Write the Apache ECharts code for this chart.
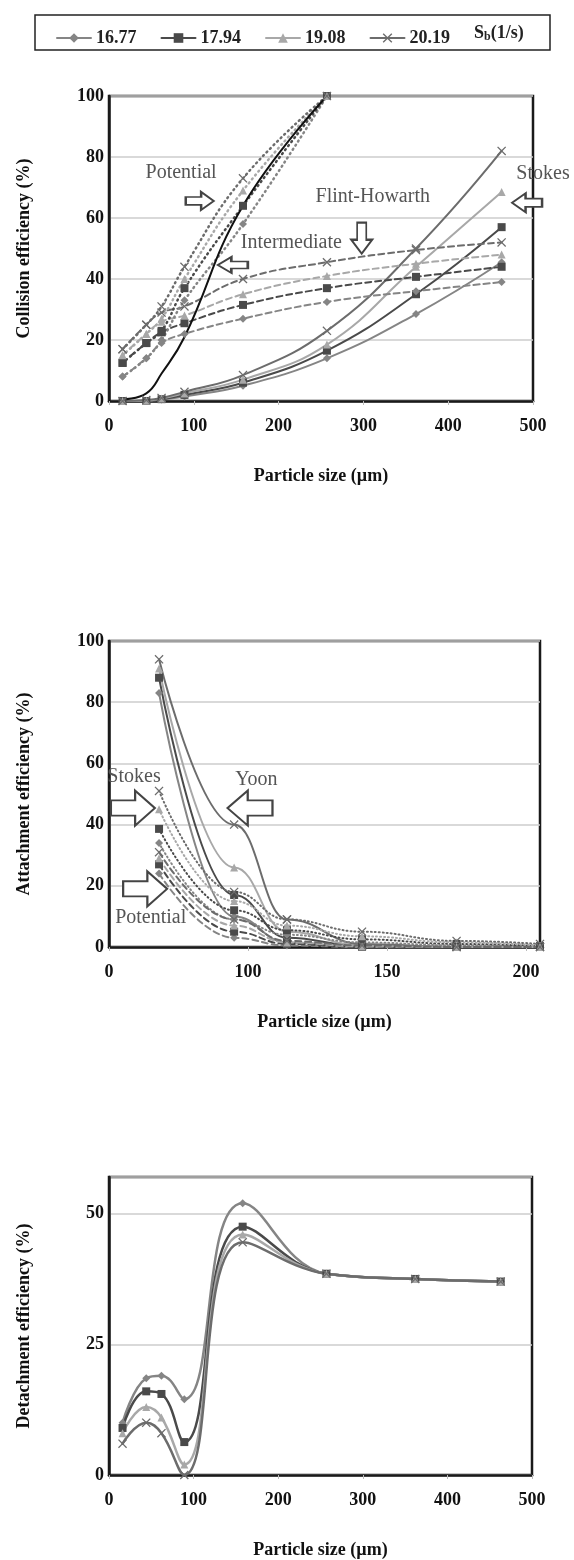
<!DOCTYPE html>
<html>
<head>
<meta charset="utf-8">
<script src="https://cdn.jsdelivr.net/npm/echarts@6/dist/echarts.min.js"></script>
<style>
html, body { margin: 0; padding: 0; background: #fff; }
#chart { width: 574px; height: 1560px; }
</style>
</head>
<body>
<div id="chart"></div>
<script>
// particle sizes (µm)
const sizes = [16, 44, 62, 89, 158, 257, 362, 463];
const sizesPotential = [16, 44, 62, 89, 158, 257];
const sizesAttach = [68, 95, 114, 141, 175, 205];

// Sb (1/s) series names
const sbNames = ['16.77', '17.94', '19.08', '20.19'];

// collision efficiency (%), one row per Sb
const colStokes = [
  [0, 0, 0.5, 1.5, 5, 14, 28.5, 45.5],
  [0, 0, 0.6, 2, 6, 16.5, 35, 57],
  [0, 0.1, 0.8, 2.5, 7, 18.5, 44, 68.5],
  [0, 0.3, 1, 3, 8.5, 23, 50, 82]
];
const colIntermediate = [
  [8, 14, 19, 22, 27, 32.5, 36, 39],
  [12.5, 19, 22.5, 25.5, 31.5, 37, 40.7, 44],
  [15, 22, 26, 28, 35, 41, 45, 48],
  [17, 25, 29, 31, 40, 45.5, 49.5, 52]
];
const colPotential = [
  [8, 14, 20, 33, 58, 100],
  [12.5, 19, 23, 37, 64, 100],
  [15, 22, 27, 40, 69, 100],
  [17, 25, 31, 44, 73, 100]
];
const colBlack = [0.5, 2.5, 9, 21, 64, 100];

// attachment efficiency (%)
const attYoon = [
  [83, 10, 1.5, 0, 0, 0],
  [88, 17, 3, 0.2, 0, 0],
  [91, 26, 5, 0.5, 0, 0],
  [94, 40, 9, 1, 0, 0]
];
const attStokes = [
  [34, 9, 4, 1.5, 0.5, 0],
  [38.6, 12, 5.5, 2.5, 1, 0.3],
  [45, 15, 7, 3.5, 1.5, 0.5],
  [51, 18, 9, 5, 2, 1]
];
const attPotential = [
  [24, 3, 0.5, 0, 0, 0],
  [27, 5, 1, 0, 0, 0],
  [29, 7, 1.5, 0.2, 0, 0],
  [31, 9, 2, 0.5, 0, 0]
];

// detachment efficiency (%)
const detach = [
  [10, 18.5, 19, 14.5, 52, 38.5, 37.5, 37],
  [9, 16, 15.5, 6.3, 47.5, 38.5, 37.5, 37],
  [8, 13, 11, 2, 46, 38.5, 37.5, 37],
  [6, 10, 8, 0, 44.5, 38.5, 37.5, 37]
];

// tick labels
const attachTickValues = [50, 100, 150, 200];
const attachTickLabels = ['0', '100', '150', '200'];
const detachTickValues = [0, 25, 50];

// annotations: [text, x, y]
const colNotes = [['Potential', 85, 75], ['Intermediate', 215, 51.8], ['Flint-Howarth', 311, 67]];
const colArrows = [[107, 65.6, 28, 18, 0], [146, 44.6, 30, 16, 180], [298, 53.4, 31, 21, -90], [493, 65, 30, 19, 180]];
const attNotes = [['Stokes', 59, 55.5], ['Yoon', 103, 54.6], ['Potential', 65, 9.5]];
const attArrows = [[58.6, 45.4, 44, 35, 0], [100.7, 45.4, 45, 35, 180], [63, 19, 44, 35, 0]];

const serif = 'Liberation Serif';
const sbColors = ['#858585', '#4a4a4a', '#a8a8a8', '#6c6c6c'];
const xPath = 'path://M1,0 L5,4 L9,0 L10,1 L6,5 L10,9 L9,10 L5,6 L1,10 L0,9 L4,5 L0,1 Z';
const sbSymbols = ['diamond', 'rect', 'triangle', xPath];
const arrowPath = 'path://M0,30 L55,30 L55,4 L100,50 L55,96 L55,70 L0,70 Z';

function pairs(xs, ys) {
  return ys.map((v, i) => [xs[i], v]);
}

function sbSeries(k, xs, ys, axis, dash, width) {
  return {
    name: sbNames[k],
    type: 'line',
    xAxisIndex: axis,
    yAxisIndex: axis,
    data: pairs(xs, ys),
    smooth: 0.45,
    symbol: sbSymbols[k],
    symbolSize: k === 3 ? 9 : 8,
    lineStyle: { color: sbColors[k], width: width, type: dash, cap: 'round' },
    itemStyle: { color: sbColors[k] }
  };
}

function textMark(n, offset) {
  return {
    coord: [n[1], n[2]], symbol: 'rect', symbolSize: 1,
    itemStyle: { color: 'rgba(0,0,0,0)' },
    label: {
      show: true, position: 'inside', formatter: n[0], offset: offset || [0, 0],
      fontFamily: serif, fontSize: 20, color: '#555'
    }
  };
}

function arrowMark(a) {
  return {
    coord: [a[0], a[1]], symbol: arrowPath, symbolSize: [a[2], a[3]], symbolRotate: a[4],
    itemStyle: { color: '#fff', borderColor: '#444', borderWidth: 2 },
    label: { show: false }
  };
}

const series = [];
for (let k = 0; k < 4; k++) series.push(sbSeries(k, sizes, colStokes[k], 0, 'solid', 2));
for (let k = 0; k < 4; k++) series.push(sbSeries(k, sizes, colIntermediate[k], 0, [6, 4], 2));
for (let k = 0; k < 4; k++) series.push(sbSeries(k, sizesPotential, colPotential[k], 0, [1, 4], 2.5));
series.push({
  type: 'line', xAxisIndex: 0, yAxisIndex: 0, data: pairs(sizesPotential, colBlack),
  smooth: 0.45, symbol: 'none', lineStyle: { color: '#111', width: 2 }, z: 3
});
for (let k = 0; k < 4; k++) series.push(sbSeries(k, sizesAttach, attYoon[k], 1, 'solid', 2));
for (let k = 0; k < 4; k++) series.push(sbSeries(k, sizesAttach, attStokes[k], 1, [1, 3], 2));
for (let k = 0; k < 4; k++) series.push(sbSeries(k, sizesAttach, attPotential[k], 1, [6, 4], 2));
for (let k = 0; k < 4; k++) series.push(sbSeries(k, sizes, detach[k], 2, 'solid', 2.5));
for (const s of series) if (s.xAxisIndex === 1) s.smoothMonotone = 'x';

// annotation holders (Stokes label sits just outside the plot, so it is offset from the x max)
series.push({
  type: 'line', xAxisIndex: 0, yAxisIndex: 0, data: [], z: 10,
  markPoint: {
    data: colNotes.map(n => textMark(n))
      .concat(colArrows.map(arrowMark))
      .concat([textMark(['Stokes', 500, 74.4], [10, 0])])
  }
});
series.push({
  type: 'line', xAxisIndex: 1, yAxisIndex: 1, data: [], z: 10,
  markPoint: { data: attNotes.map(n => textMark(n)).concat(attArrows.map(arrowMark)) }
});

const tickFont = { fontFamily: serif, fontWeight: 'bold', fontSize: 18, color: '#111' };
const nameFont = { fontFamily: serif, fontWeight: 'bold', fontSize: 18, color: '#111' };
const axisLine = { show: true, onZero: false, lineStyle: { color: '#1a1a1a', width: 2.5 } };
const splitLine = { show: true, lineStyle: { color: '#cdcdcd', width: 1.5 } };

function xAxis(idx, min, max, interval, fmt) {
  return {
    gridIndex: idx, type: 'value', min: min, max: max, interval: interval,
    name: 'Particle size (\u00b5m)', nameLocation: 'middle', nameGap: 66, nameTextStyle: nameFont,
    axisLine: axisLine, axisTick: { show: true, length: 4, lineStyle: { color: '#bbb' } },
    axisLabel: Object.assign({ margin: 16, formatter: fmt }, tickFont),
    splitLine: { show: false }
  };
}

function yAxis(idx, max, interval, title, fmt) {
  return {
    gridIndex: idx, type: 'value', min: 0, max: max, interval: interval,
    name: title, nameLocation: 'middle', nameGap: 76, nameTextStyle: nameFont,
    axisLine: axisLine, axisTick: { show: false },
    axisLabel: Object.assign({ margin: 5, formatter: fmt }, tickFont),
    splitLine: splitLine
  };
}

const option = {
  animation: false,
  backgroundColor: '#fff',
  textStyle: { fontFamily: serif },
  legend: {
    data: sbNames,
    left: 51, top: 24,
    itemWidth: 34, itemHeight: 12, itemGap: 24,
    textStyle: { fontFamily: serif, fontWeight: 'bold', fontSize: 18, color: '#222' }
  },
  graphic: [
    { type: 'rect', shape: { x: 35, y: 15, width: 515, height: 35 }, style: { fill: 'none', stroke: '#222', lineWidth: 1.5 } },
    {
      type: 'text', x: 474, y: 22,
      style: {
        text: '{a|S}{b|b}{a|(1/s)}',
        rich: {
          a: { fontFamily: serif, fontWeight: 'bold', fontSize: 18, fill: '#222', lineHeight: 22 },
          b: { fontFamily: serif, fontWeight: 'bold', fontSize: 12, fill: '#222', lineHeight: 22, padding: [8, 0, 0, 0] }
        }
      }
    }
  ],
  grid: [
    { left: 109, top: 96, width: 424, height: 305, show: true, borderColor: '#1a1a1a', borderWidth: 2.5 },
    { left: 109, top: 641, width: 431, height: 306, show: true, borderColor: '#1a1a1a', borderWidth: 2.5 },
    { left: 109, top: 1177, width: 423, height: 298, show: true, borderColor: '#1a1a1a', borderWidth: 2.5 }
  ],
  xAxis: [
    xAxis(0, 0, 500, 100),
    xAxis(1, 50, 205, 50, v => {
      const i = attachTickValues.indexOf(v);
      return i < 0 ? '' : attachTickLabels[i];
    }),
    xAxis(2, 0, 500, 100)
  ],
  yAxis: [
    yAxis(0, 100, 20, 'Collision efficiency (%)'),
    yAxis(1, 100, 20, 'Attachment efficiency (%)'),
    yAxis(2, 57, 25, 'Detachment efficiency (%)', v => detachTickValues.indexOf(v) < 0 ? '' : String(v))
  ],
  series: series
};

const chart = echarts.init(document.getElementById('chart'));
chart.setOption(option);
</script>
</body>
</html>
